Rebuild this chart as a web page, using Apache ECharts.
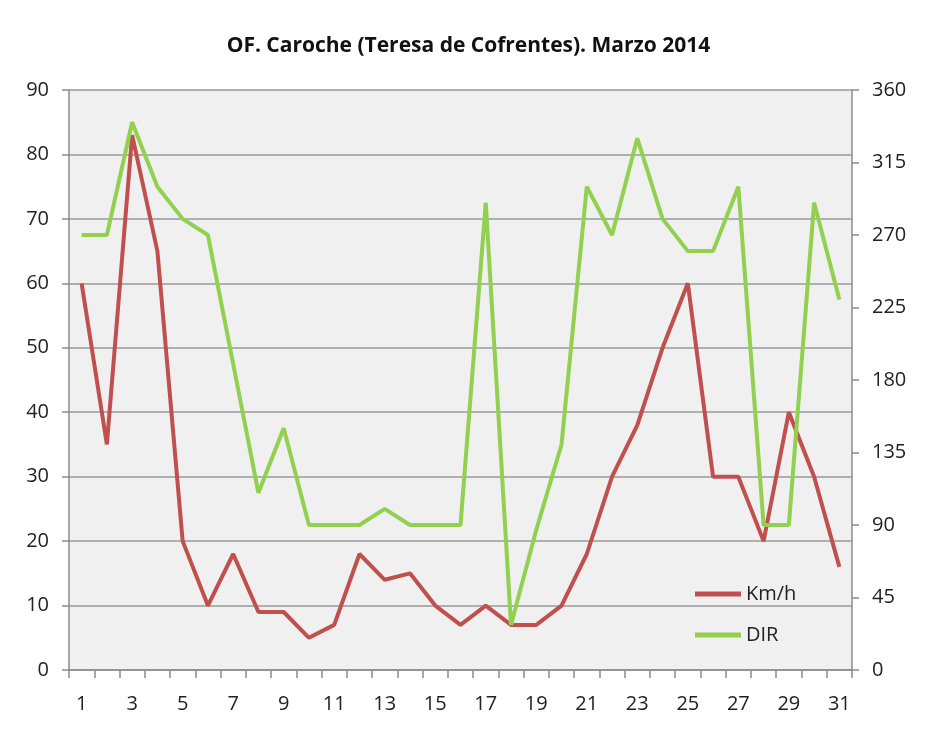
<!DOCTYPE html>
<html>
<head>
<meta charset="utf-8">
<script src="https://cdn.jsdelivr.net/npm/echarts@6/dist/echarts.min.js"></script>
<style>
  html, body { margin: 0; padding: 0; background: #fff; }
  #chart { width: 937px; height: 729px; }
</style>
</head>
<body>
<div id="chart"></div>
<script>
const days = Array.from({ length: 31 }, (_, i) => String(i + 1));
const kmh = [60, 35, 83, 65, 20, 10, 18, 9, 9, 5, 7, 18, 14, 15, 10, 7, 10, 7, 7, 10, 18, 30, 38, 50, 60, 30, 30, 20, 40, 30, 16];
const dir = [270, 270, 340, 300, 280, 270, 190, 110, 150, 90, 90, 90, 100, 90, 90, 90, 290, 28, 87, 140, 300, 270, 330, 280, 260, 260, 300, 90, 90, 290, 230];

const FONT = "'Open Sans', 'Noto Sans', sans-serif";
const axisGray = "#8c8c8c";

const chart = echarts.init(document.getElementById("chart"));

chart.setOption({
  backgroundColor: "#fff",
  animation: false,
  title: {
    text: "OF. Caroche (Teresa de Cofrentes). Marzo 2014",
    left: "center",
    top: 31,
    textStyle: { fontFamily: FONT, fontSize: 21, fontWeight: "bold", color: "#111" },
  },
  legend: {
    orient: "vertical",
    left: 690,
    top: 579,
    itemGap: 21,
    itemWidth: 46,
    itemHeight: 5,
    icon: "rect",
    textStyle: { fontFamily: FONT, fontSize: 20, color: "#222" },
    data: ["Km/h", "DIR"],
  },
  grid: { left: 69, right: 85, top: 90, bottom: 59, show: true, backgroundColor: "#f0f0f0", borderWidth: 0 },
  xAxis: {
    type: "category",
    data: days,
    boundaryGap: true,
    axisLine: { lineStyle: { color: axisGray, width: 1.5 } },
    axisTick: { show: true, length: 8, interval: 0, lineStyle: { color: axisGray, width: 1.5 } },
    axisLabel: { interval: 1, fontFamily: FONT, fontSize: 20, color: "#222", margin: 24 },
  },
  yAxis: [
    {
      type: "value",
      min: 0,
      max: 90,
      interval: 10,
      axisLine: { show: true, lineStyle: { color: axisGray, width: 1.5 } },
      axisTick: { show: true, length: 7, lineStyle: { color: axisGray, width: 1.5 } },
      axisLabel: { fontFamily: FONT, fontSize: 20, color: "#222", margin: 20 },
      splitLine: { show: true, lineStyle: { color: "#9a9a9a", width: 1.5 } },
    },
    {
      type: "value",
      min: 0,
      max: 360,
      interval: 45,
      position: "right",
      axisLine: { show: true, lineStyle: { color: axisGray, width: 1.5 } },
      axisTick: { show: true, length: 7, lineStyle: { color: axisGray, width: 1.5 } },
      axisLabel: { fontFamily: FONT, fontSize: 20, color: "#222", margin: 20 },
      splitLine: { show: false },
    },
  ],
  series: [
    {
      name: "Km/h",
      type: "line",
      yAxisIndex: 0,
      data: kmh,
      symbol: "none",
      itemStyle: { color: "#c0504d" },
      lineStyle: { width: 4, color: "#c0504d" },
      z: 3,
    },
    {
      name: "DIR",
      type: "line",
      yAxisIndex: 1,
      data: dir,
      symbol: "none",
      itemStyle: { color: "#92d050" },
      lineStyle: { width: 4, color: "#92d050" },
      z: 4,
    },
  ],
});
</script>
</body>
</html>
